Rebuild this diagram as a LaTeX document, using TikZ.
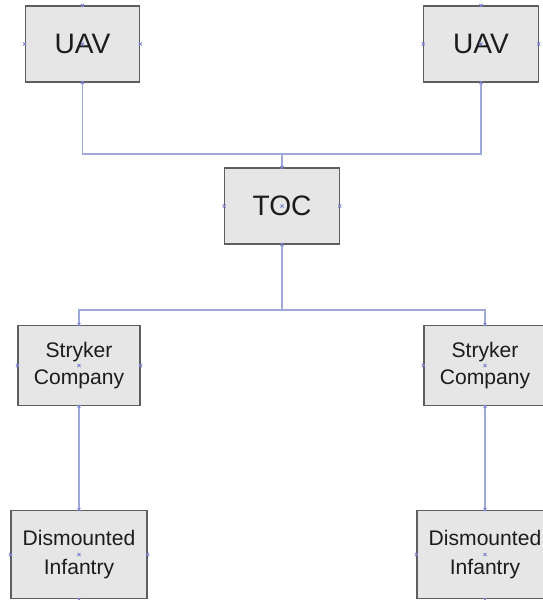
\documentclass[tikz,border=0pt]{standalone}
\usepackage{fontspec}
\setmainfont{Liberation Sans}
\usepackage{xcolor}
\definecolor{boxfill}{HTML}{E6E6E6}
\definecolor{boxedge}{HTML}{5E5E5E}
\definecolor{wirecol}{HTML}{9DAAD9}
\definecolor{pin}{HTML}{7F84D0}
\definecolor{label}{HTML}{1C1C1C}
\tikzset{
  unit/.style={draw=boxedge,fill=boxfill,line width=0.8pt,inner sep=0pt,align=center,text=label},
  bigunit/.style={unit,minimum width=2.86cm,minimum height=1.9cm,font=\fontsize{20}{24}\selectfont},
  midunit/.style={unit,minimum width=3.05cm,minimum height=2.02cm,font=\fontsize{15}{19.5}\selectfont},
  lowunit/.style={unit,minimum width=3.4cm,minimum height=2.22cm,font=\fontsize{15}{20.5}\selectfont},
  link/.style={draw=wirecol,line width=0.8pt},
  pinmark/.style={draw=pin,line width=0.6pt}
}

\begin{document}
\begin{tikzpicture}[x=0.025cm,y=-0.025cm]
  \useasboundingbox (0,0) rectangle (543,600);
  % top row
  \node[bigunit] (uavL) at (82.5,44) {UAV};
  \node[bigunit] (uavR) at (481,44) {UAV};
  \node[bigunit] (toc) at (282,206) {TOC};
  % companies and infantry
  \node[midunit] (strkL) at (79,365.5) {Stryker\\Company};
  \node[midunit] (strkR) at (485,365.5) {Stryker\\Company};
  \node[lowunit] (dismL) at (79,554.5) {Dismounted\\Infantry};
  \node[lowunit] (dismR) at (485,554.5) {Dismounted\\Infantry};
  % bus points
  \coordinate (topbus) at (282,154);
  \coordinate (lowbus) at (282,310);
  % links
  \draw[link] (uavL.south) |- (topbus) -| (uavR.south);
  \draw[link] (toc.north) -- (topbus);
  \draw[link] (toc.south) -- (lowbus);
  \draw[link] (strkL.north) |- (lowbus) -| (strkR.north);
  \draw[link] (strkL.south) -- (dismL.north);
  \draw[link] (strkR.south) -- (dismR.north);
  % connection pins
  \foreach \n in {uavL,uavR,toc,strkL,strkR,dismL,dismR}
    \foreach \a in {north,south,east,west,center}
      \draw[pinmark] (\n.\a) ++(-1.5,-1.5) -- ++(3,3) ++(0,-3) -- ++(-3,3);
\end{tikzpicture}
\end{document}
